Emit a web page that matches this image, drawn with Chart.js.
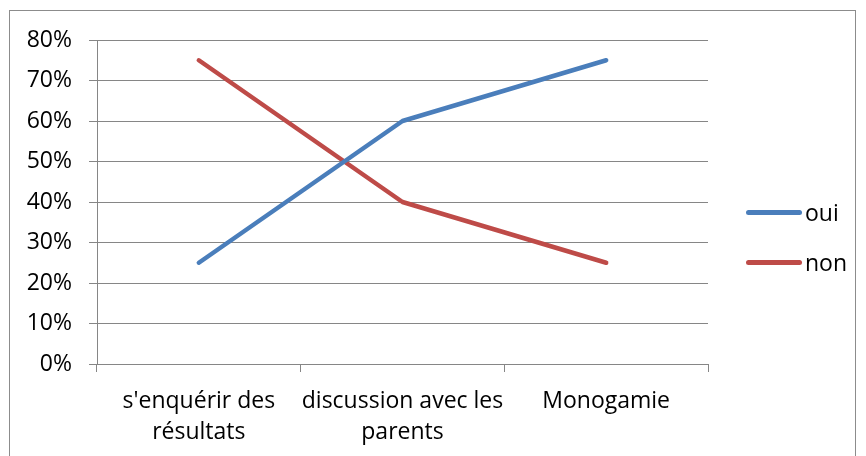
<!DOCTYPE html>
<html>
<head>
<meta charset="utf-8">
<script src="https://cdn.jsdelivr.net/npm/chart.js"></script>
<style>
  html, body { margin: 0; padding: 0; background: #fff; }
  #wrap { position: relative; width: 866px; height: 456px; overflow: hidden; }
  #frame { position: absolute; left: 9px; top: 10px; width: 847px; height: 460px; border: 1px solid #8c8c8c; box-sizing: border-box; }
  canvas { position: absolute; left: 0; top: 0; }
  #legend { position: absolute; left: 746px; top: 0; font-family: "Open Sans", sans-serif; font-size: 23px; color: #000; }
  .item { position: absolute; left: 0; display: flex; align-items: center; white-space: nowrap; }
  .swatch { width: 56px; height: 5px; border-radius: 3px; margin-right: 3px; }
</style>
</head>
<body>
<div id="wrap">
  <div id="frame"></div>
  <canvas id="chart" width="866" height="456"></canvas>
  <div id="legend"></div>
</div>
<script>
const categories = [["s'enquérir des", "résultats"], ["discussion avec les", "parents"], "Monogamie"];
const seriesNames = ["oui", "non"];
const ouiValues = [25, 60, 75];
const nonValues = [75, 40, 25];
const yTicks = [0, 10, 20, 30, 40, 50, 60, 70, 80];
const colors = ["#4A7EBB", "#BE4B48"];

const gridGray = "#868686";
const tickFont = { family: "'Open Sans', sans-serif", size: 23 };

const chart = new Chart(document.getElementById("chart").getContext("2d"), {
  type: "line",
  data: {
    labels: categories,
    datasets: [
      { label: seriesNames[0], data: ouiValues, borderColor: colors[0], backgroundColor: colors[0] },
      { label: seriesNames[1], data: nonValues, borderColor: colors[1], backgroundColor: colors[1] }
    ]
  },
  options: {
    responsive: false,
    animation: false,
    devicePixelRatio: 1,
    layout: { padding: { top: 40, right: 158, left: 0, bottom: 0 } },
    elements: {
      line: { borderWidth: 4.5, tension: 0, borderCapStyle: "round", borderJoinStyle: "round" },
      point: { radius: 0, hoverRadius: 0 }
    },
    plugins: {
      legend: { display: false },
      tooltip: { enabled: false }
    },
    scales: {
      x: {
        offset: true,
        grid: { offset: true, drawOnChartArea: false, tickLength: 8, color: gridGray },
        border: { color: gridGray, width: 1 },
        ticks: { font: { ...tickFont, lineHeight: 1.35 }, color: "#000", padding: 14, maxRotation: 0, autoSkip: false },
        afterFit: (scale) => { scale.height = 92; }
      },
      y: {
        min: 0,
        max: 80,
        afterBuildTicks: (scale) => { scale.ticks = yTicks.map(v => ({ value: v })); },
        grid: { tickLength: 8, color: gridGray },
        border: { color: gridGray, width: 1 },
        ticks: { font: tickFont, color: "#000", padding: 17, callback: (v) => v + "%" },
        afterFit: (scale) => { scale.width = 97; }
      }
    }
  }
});

// simple html legend built from the datasets
const legendEl = document.getElementById("legend");
const legendY = [212, 262];
chart.data.datasets.forEach((ds, i) => {
  const item = document.createElement("div");
  item.className = "item";
  item.style.top = (legendY[i] - 15) + "px";
  item.style.height = "30px";
  item.innerHTML = '<span class="swatch" style="background:' + ds.borderColor + '"></span><span style="line-height:30px">' + ds.label + '</span>';
  legendEl.appendChild(item);
});
</script>
</body>
</html>
